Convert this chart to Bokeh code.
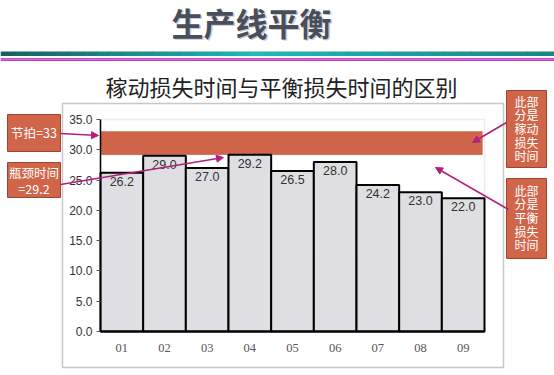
from bokeh.plotting import figure
from bokeh.models import (ColumnDataSource, Range1d, BoxAnnotation, Label, Arrow, LinearAxis,
                          NormalHead, SingleIntervalTicker, FixedTicker, NumeralTickFormatter)
from bokeh.core.properties import value
from bokeh.embed import file_html
from bokeh.resources import INLINE

# ---- data ----
stations = ["01", "02", "03", "04", "05", "06", "07", "08", "09"]
cycle_times = [26.2, 29.0, 27.0, 29.2, 26.5, 28.0, 24.2, 23.0, 22.0]
takt_time = 33.0
bottleneck_time = 29.2
y_max = 35.0
y_step = 5.0
page_title = "生产线平衡"
chart_title = "稼动损失时间与平衡损失时间的区别"
note_takt = "节拍=33"
note_bottleneck = "瓶颈时间\n=29.2"
note_util_loss = "此部\n分是\n稼动\n损失\n时间"
note_balance_loss = "此部\n分是\n平衡\n损失\n时间"

CJK = "Noto Sans CJK SC"
ORANGE = "#d0654a"
ORANGE_EDGE = "#9a4632"
ARROW_C = "#b2207e"

# ---- layout (canvas pixels) ----
W, H = 554, 375
PL, PR, PT, PB = 100, 484, 119, 331   # plot-area edges on the canvas

n = len(stations)
xs = [i + 1 for i in range(n)]
x_lo, x_hi = xs[0] - 0.5, xs[-1] + 0.5
kx = (PR - PL) / (x_hi - x_lo)
ky = (PB - PT) / y_max
x_range = Range1d(x_lo - PL / kx, x_hi + (W - PR) / kx)
y_range = Range1d(-(H - PB) / ky, y_max + PT / ky)

p = figure(x_range=x_range, y_range=y_range, width=W, height=H,
           output_backend="svg", toolbar_location=None, min_border=0,
           x_axis_location=None, y_axis_location=None)
p.background_fill_color = "white"
p.border_fill_color = "white"
p.outline_line_color = None
p.xgrid.grid_line_color = None
p.ygrid.grid_line_color = None

src = ColumnDataSource(dict(x=xs, top=cycle_times,
                            label=["%.1f" % v for v in cycle_times]))

# plot-area frame
p.add_layout(BoxAnnotation(left=x_lo, right=x_hi, bottom=0, top=y_max, fill_alpha=0,
                           line_color="#c4c4c4", line_width=1.5, level="underlay"))
# takt / bottleneck band
p.add_layout(BoxAnnotation(left=x_lo, right=x_hi - 0.05, bottom=bottleneck_time, top=takt_time,
                           fill_color=ORANGE, fill_alpha=1.0, line_color=ORANGE_EDGE,
                           line_width=1, level="underlay"))

p.vbar(x="x", top="top", width=1.0, source=src, fill_color="#dfdfe3",
       line_color="black", line_width=2)
p.text(x="x", y="top", text="label", source=src, text_align="center",
       text_baseline="top", y_offset=4, text_font_size="12.5px",
       text_color="#333333", text_font=value("Liberation Sans"))

# axes
yax = LinearAxis(fixed_location=x_lo, bounds=(0, y_max),
                 ticker=SingleIntervalTicker(interval=y_step),
                 formatter=NumeralTickFormatter(format="0.0"))
yax.major_label_text_font = "Liberation Sans"
yax.major_label_text_font_size = "12px"
yax.major_label_text_color = "#333333"
yax.axis_line_color = "black"
yax.axis_line_width = 1.5
yax.major_tick_line_color = "#555555"
yax.major_tick_in = 0
yax.major_tick_out = 4
yax.minor_tick_line_color = None
yax.major_label_standoff = 4
p.add_layout(yax, "left")

xax = LinearAxis(fixed_location=0, bounds=(x_lo, x_hi), ticker=FixedTicker(ticks=xs),
                 major_label_overrides={x: s for x, s in zip(xs, stations)})
xax.axis_line_color = "black"
xax.axis_line_width = 2
xax.major_tick_line_color = None
xax.minor_tick_line_color = None
xax.major_label_standoff = 6
xax.major_label_text_font = "Liberation Serif"
xax.major_label_text_font_size = "12.5px"
xax.major_label_text_color = "#555555"
p.add_layout(xax, "below")

U = "canvas"

def box(l, r, t, b, fill, line, lw=1.0):
    p.add_layout(BoxAnnotation(left=l, right=r, top=t, bottom=b, left_units=U, right_units=U,
                               top_units=U, bottom_units=U, fill_color=fill or "white",
                               fill_alpha=1.0 if fill else 0, line_color=line or "white",
                               line_width=lw, line_alpha=1.0 if line else 0, level="overlay"))

def label(x, y, text, size, color, font=CJK, style="normal", align="center", lh=1.0):
    p.add_layout(Label(x=x, y=y, x_units=U, y_units=U, text=text, text_font=font,
                       text_font_size=size, text_color=color, text_align=align,
                       text_baseline="middle", text_font_style=style, text_line_height=lh,
                       level="overlay"))

def arrow(x0, y0, x1, y1):
    p.add_layout(Arrow(x_start=x0, y_start=y0, x_end=x1, y_end=y1, start_units=U, end_units=U,
                       line_color=ARROW_C, line_width=1.5, level="overlay",
                       end=NormalHead(size=7, fill_color=ARROW_C, line_color=ARROW_C)))

# outer chart border
box(62, 503, 103, 367, None, "#c8c8c8", 1.5)

# header
label(252.5, 22.5, page_title, "32px", "#c9cbd2", style="bold")
label(251, 21, page_title, "32px", "#4a4e5b", style="bold")

# teal gradient bar
def lerp(c1, c2, t):
    return "#%02x%02x%02x" % tuple(int(round(a + (b - a) * t)) for a, b in zip(c1, c2))
dark = (22, 98, 96)
bright = (32, 185, 180)
segs = 40
for i in range(segs):
    x0 = W * i / segs
    x1 = W * (i + 1) / segs + 0.6
    c = x0 / W
    t = c / 0.45 if c < 0.45 else 1 - (c - 0.45) / 0.55 * 0.6
    box(x0, x1, 51, 55.5, lerp(dark, bright, t), None)
box(0, W, 57.5, 60.5, "#c040c6", None)
box(0, W, 58.3, 59.3, "#d878dc", None)

# chart title
label(281, 85, chart_title, "22px", "#222222")

# annotation boxes
box(7, 60, 114, 151, ORANGE, ORANGE_EDGE)
label(33.5, 132, note_takt, "12.5px", "white")
box(7, 60, 162, 197, ORANGE, ORANGE_EDGE)
label(33.5, 180, note_bottleneck, "12.5px", "white", lh=0.8)
box(506, 546, 90, 167, ORANGE, ORANGE_EDGE)
label(526, 128, note_util_loss, "12px", "white", lh=0.8)
box(506, 546, 178, 258, ORANGE, ORANGE_EDGE)
label(526, 217, note_balance_loss, "12px", "white", lh=0.8)

# arrows
arrow(60, 133, 98, 135)
arrow(60, 184, 223, 157)
arrow(506, 122, 472, 142)
arrow(508, 209, 435, 167)

open("out.html", "w").write(file_html(p, INLINE))
